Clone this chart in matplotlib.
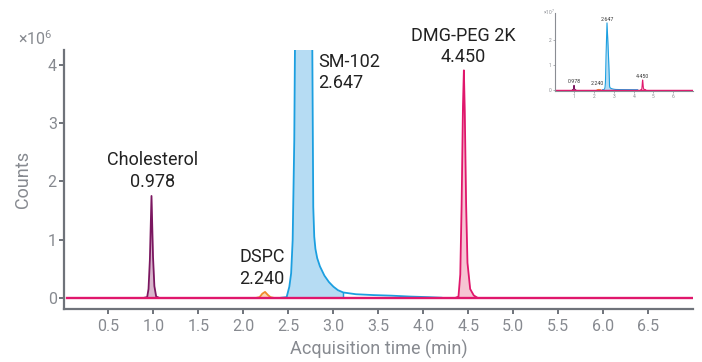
import matplotlib
matplotlib.use("Agg")
import matplotlib.pyplot as plt
import numpy as np

plt.rcParams['font.family'] = ['Roboto', 'DejaVu Sans']
plt.rcParams['mathtext.fontset'] = 'custom'
plt.rcParams['mathtext.rm'] = 'Roboto'

# ---- data (counts in units of 1e6) ----
chol_t = [0.90, 0.93, 0.945, 0.96, 0.978, 0.995, 1.01, 1.03, 1.06]
chol_c = [0.0, 0.01, 0.15, 0.65, 1.75, 0.70, 0.20, 0.02, 0.0]

dspc_t = [2.15, 2.18, 2.21, 2.24, 2.27, 2.30, 2.33]
dspc_c = [0.0, 0.01, 0.07, 0.10, 0.05, 0.01, 0.0]

sm_t = [2.42, 2.48, 2.51, 2.53, 2.547, 2.565, 2.573, 2.60, 2.647, 2.70, 2.75, 2.765,
        2.776, 2.787, 2.80, 2.82, 2.85, 2.90, 2.95, 3.00, 3.05, 3.11, 3.25, 3.45,
        3.65, 3.85, 4.05, 4.2]
sm_c = [0.0, 0.01, 0.19, 0.42, 0.99, 2.71, 4.4, 14.0, 27.0, 18.0, 8.0, 4.4,
        1.56, 1.05, 0.84, 0.68, 0.54, 0.38, 0.27, 0.19, 0.13, 0.09, 0.06, 0.045,
        0.035, 0.02, 0.01, 0.0]
sm_int = (2.48, 3.11)

dmg_t = [4.36, 4.39, 4.41, 4.425, 4.44, 4.45, 4.46, 4.475, 4.49, 4.52, 4.56, 4.60]
dmg_c = [0.0, 0.02, 0.40, 1.60, 3.30, 3.91, 3.20, 1.60, 0.60, 0.15, 0.04, 0.0]

base_t = [0.04, 7.0]
base_c = [0.0, 0.0]

x_ticks = [0.5, 1.0, 1.5, 2.0, 2.5, 3.0, 3.5, 4.0, 4.5, 5.0, 5.5, 6.0, 6.5]
y_ticks = [0, 1, 2, 3, 4]
inset_xticks = [1, 2, 3, 4, 5, 6]
inset_yticks = [0, 1, 2]

labels = {
    'chol': ('Cholesterol', '0.978'),
    'dspc': ('DSPC', '2.240'),
    'sm': ('SM-102', '2.647'),
    'dmg': ('DMG-PEG 2K', '4.450'),
}

# ---- colours ----
C_CHOL, F_CHOL = '#7b1760', '#d9b6cd'
C_DSPC, F_DSPC = '#f08a2c', '#fbd6b3'
C_SM, F_SM = '#1c9fe0', '#b6dcf3'
C_DMG, F_DMG = '#e0176c', '#f6c4d3'
AX = '#6f737a'
TXT = '#222222'
TICK = '#878a90'

fig = plt.figure(figsize=(7.02, 3.62), dpi=100)
ax = fig.add_axes([63.5 / 702, 1 - 309 / 362, (693.3 - 63.5) / 702, (309 - 50) / 362])


def draw(a, scale, lw):
    def tr(c):
        return np.array(c) / scale
    # cholesterol
    a.fill_between(chol_t, tr(chol_c), color=F_CHOL, lw=0)
    a.plot(chol_t, tr(chol_c), color=C_CHOL, lw=lw)
    # dspc
    a.fill_between(dspc_t, tr(dspc_c), color=F_DSPC, lw=0)
    a.plot(dspc_t, tr(dspc_c), color=C_DSPC, lw=lw)
    # sm-102
    st = np.array(sm_t)
    sc = tr(sm_c)
    m = (st >= sm_int[0]) & (st <= sm_int[1])
    a.fill_between(st[m], sc[m], color=F_SM, lw=0)
    a.plot(st, sc, color=C_SM, lw=lw)
    a.vlines(sm_int[1], 0, sc[m][-1], color=C_SM, lw=lw * 0.8)
    # dmg
    a.fill_between(dmg_t, tr(dmg_c), color=F_DMG, lw=0)
    a.plot(dmg_t, tr(dmg_c), color=C_DMG, lw=lw)
    # baseline
    a.plot(base_t, base_c, color=C_DMG, lw=lw * 1.3)


draw(ax, 1.0, 1.3)
ax.set_xlim(0, 7.0)
ax.set_ylim(-0.194, 4.26)
ax.set_xticks(x_ticks)
ax.set_xticklabels([f'{v:.1f}' for v in x_ticks])
ax.set_yticks(y_ticks)
ax.set_yticklabels([str(v) for v in y_ticks])
for s in ['top', 'right']:
    ax.spines[s].set_visible(False)
for s in ['left', 'bottom']:
    ax.spines[s].set_color(AX)
    ax.spines[s].set_linewidth(1.6)
ax.tick_params(axis='both', colors=AX, labelcolor=TICK, labelsize=11.5, length=3.3, width=1.4)
ax.tick_params(axis='x', pad=4)
ax.tick_params(axis='y', pad=1.5)
ax.set_xlabel('Acquisition time (min)', fontsize=13, color=TICK, labelpad=4)
ax.set_ylabel('Counts', fontsize=13, color=TICK, labelpad=11)
fig.text(18 / 702, 1 - 45 / 362, '×10$^{6}$', fontsize=11.5, color=TICK, ha='left', va='baseline')

fs = 13
ax.text(0.985, 2.28, labels['chol'][0], ha='center', va='baseline', fontsize=fs, color=TXT)
ax.text(0.985, 1.90, labels['chol'][1], ha='center', va='baseline', fontsize=fs, color=TXT)
ax.text(2.204, 0.62, labels['dspc'][0], ha='center', va='baseline', fontsize=fs, color=TXT)
ax.text(2.204, 0.235, labels['dspc'][1], ha='center', va='baseline', fontsize=fs, color=TXT)
ax.text(2.833, 3.97, labels['sm'][0], ha='left', va='baseline', fontsize=fs, color=TXT)
ax.text(2.833, 3.60, labels['sm'][1], ha='left', va='baseline', fontsize=fs, color=TXT)
ax.text(4.443, 4.42, labels['dmg'][0], ha='center', va='baseline', fontsize=fs, color=TXT, clip_on=False)
ax.text(4.443, 4.05, labels['dmg'][1], ha='center', va='baseline', fontsize=fs, color=TXT)

# ---- inset (counts in units of 1e7) ----
ia = fig.add_axes([554.7 / 702, 1 - 90.7 / 362, (693 - 554.7) / 702, (90.7 - 13) / 362])
draw(ia, 10.0, 0.8)
ia.set_xlim(0, 7.0)
ia.set_ylim(-0.04, 3.1)
ia.set_xticks(inset_xticks)
ia.set_yticks(inset_yticks)
for s in ['top', 'right']:
    ia.spines[s].set_visible(False)
for s in ['left', 'bottom']:
    ia.spines[s].set_color('#8a8d93')
    ia.spines[s].set_linewidth(0.8)
ia.tick_params(axis='both', colors='#8a8d93', labelcolor='#8a8d93', labelsize=3.5, length=1.2, width=0.5, pad=1)
fig.text(543 / 702, 1 - 15 / 362, '×10$^{7}$', fontsize=3.5, color='#8a8d93', ha='left', va='baseline')
ifs = 3.8
ia.text(0.978, 0.24, labels['chol'][1], ha='center', va='bottom', fontsize=ifs, color='#333333')
ia.text(2.15, 0.13, labels['dspc'][1], ha='center', va='bottom', fontsize=ifs, color='#333333')
ia.text(2.647, 2.75, labels['sm'][1], ha='center', va='bottom', fontsize=ifs, color='#333333')
ia.text(4.45, 0.45, labels['dmg'][1], ha='center', va='bottom', fontsize=ifs, color='#333333')

fig.savefig('out.png', dpi=100)
